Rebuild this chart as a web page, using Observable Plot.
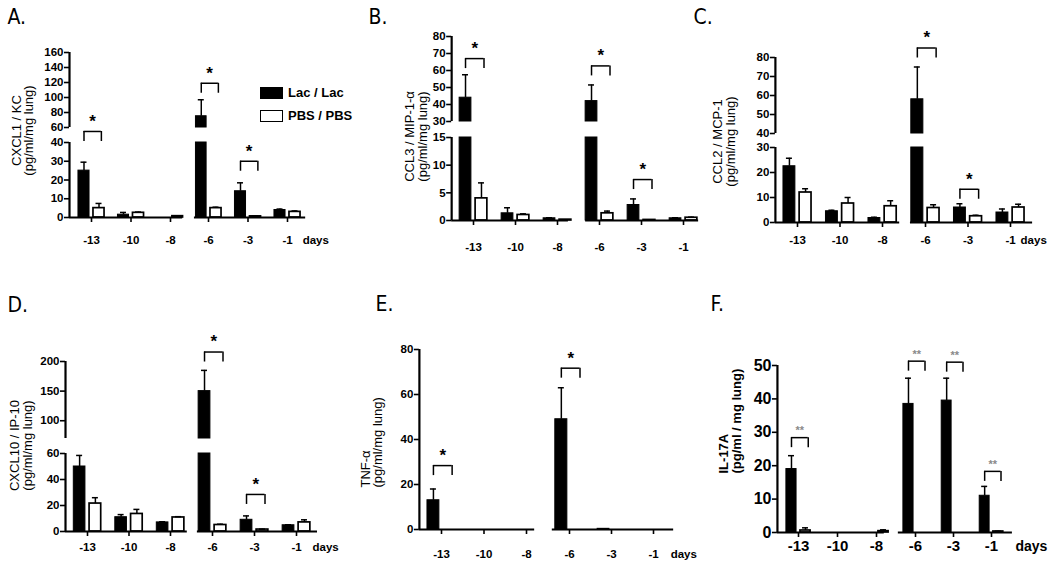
<!DOCTYPE html>
<html><head><meta charset="utf-8">
<script src="https://cdn.jsdelivr.net/npm/d3@7"></script>
<script src="https://cdn.jsdelivr.net/npm/@observablehq/plot@0.6"></script>
<style>
body{margin:0;background:#fff;}
#fig{position:relative;width:1050px;height:562px;overflow:hidden;background:#fff;}
#fig svg{position:absolute;left:0;top:0;}
.leg{position:absolute;font:bold 13px "Liberation Sans",Arial,sans-serif;color:#000;line-height:14px;}
.sw{position:absolute;box-sizing:border-box;}
</style></head><body><div id="fig"></div><script>
const days = ["-13","-10","-8","-6","-3","-1"];
const groups = ["Lac / Lac","PBS / PBS"];

// A. CXCL1 / KC
const kcLac = [25, 1.5, 0, 75, 14, 4];
const kcLacErr = [4.5, 1.2, 0, 22, 4.5, 0.5];
const kcPbs = [5, 2.5, 0.7, 5, 0.6, 3];
const kcPbsErr = [2.5, 0.4, 0.2, 0.5, 0.2, 0.5];
const kcSigDays = ["-13","-6","-3"];
const kcSigLevels = [54.7, 119, 30];

// B. CCL3 / MIP-1-alpha
const ccl3Lac = [44, 1.3, 0.4, 42, 2.8, 0.4];
const ccl3LacErr = [13.5, 1, 0.1, 9.5, 1.1, 0.1];
const ccl3Pbs = [4, 1.0, 0.15, 1.3, 0.1, 0.5];
const ccl3PbsErr = [2.8, 0.2, 0, 0.4, 0, 0.1];
const ccl3SigDays = ["-13","-6","-3"];
const ccl3SigLevels = [67, 62.7, 7.4];

// C. CCL2 / MCP-1
const ccl2Lac = [22.5, 4.5, 1.8, 58, 6, 4];
const ccl2LacErr = [3.2, 0.4, 0.3, 17, 1.5, 1.4];
const ccl2Pbs = [12, 7.6, 6.5, 5.8, 2.5, 6];
const ccl2PbsErr = [1.5, 2.4, 2.2, 1.3, 0.4, 1.3];
const ccl2SigDays = ["-6","-3"];
const ccl2SigLevels = [85, 13.3];

// D. CXCL10 / IP-10
const ip10Lac = [50, 11, 7, 150, 9, 4.8];
const ip10LacErr = [8.5, 2, 0.5, 35, 3, 0.4];
const ip10Pbs = [21.5, 13.5, 10.8, 5, 1.5, 7];
const ip10PbsErr = [4.5, 3.5, 0.6, 0.6, 0.3, 2];
const ip10SigDays = ["-6","-3"];
const ip10SigLevels = [216, 28.5];

// E. TNF-alpha
const tnfLac = [13, 0, 0, 49, 0.3, 0];
const tnfLacErr = [5, 0, 0, 14, 0, 0];
const tnfPbs = [0, 0, 0, 0, 0, 0];
const tnfPbsErr = [0, 0, 0, 0, 0, 0];
const tnfSigDays = ["-13","-6"];
const tnfSigLevels = [28.4, 71.7];

// F. IL-17A
const il17Lac = [19, 0, 0, 38.5, 39.5, 11];
const il17LacErr = [4, 0, 0, 7.7, 6.7, 2.8];
const il17Pbs = [0.6, 0, 0.4, 0, 0, 0.3];
const il17PbsErr = [0.8, 0, 0.4, 0, 0, 0.1];
const il17SigDays = ["-13","-6","-3","-1"];
const il17SigLevels = [28.4, 51.3, 51, 18.3];

const kcTicks = [0,10,20,30,40,60,80,100,120,140,160];
const ccl3Ticks = [0,5,10,15,30,40,50,60,70,80];
const ccl2Ticks = [0,10,20,30,40,50,60,70,80];
const ip10Ticks = [0,20,40,60,100,150,200];
const tnfTicks = [0,20,40,60,80];
const il17Ticks = [0,10,20,30,40,50];

const FONT = "'Liberation Sans', Arial, Helvetica, sans-serif";
const NARROW = "'Liberation Sans Narrow', 'Arial Narrow', 'DejaVu Sans Condensed', sans-serif";

const panels = [
 {letter:"A.", lp:[7,23], label:"CXCL1 / KC\n(pg/ml/mg lung)", yl:[22.5,130], ya:"middle",
  lac:kcLac, lacErr:kcLacErr, pbs:kcPbs, pbsErr:kcPbsErr, sigDays:kcSigDays, sigLevels:kcSigLevels, sig:"*",
  yDomain:[0,40,60,160], yRange:[217,142,127,52], brk:[40,60], top:160, ticks:kcTicks,
  xRange:[91,170,208,287], axis:-0.557, segs:[[-0.557,2.32],[2.63,5.46]], xdy:23, daysDx:-3, showDays:true},
 {letter:"B.", lp:[368,23], label:"CCL3 / MIP-1-\u03b1\n(pg/ml/mg lung)", yl:[416,136], ya:"middle",
  lac:ccl3Lac, lacErr:ccl3LacErr, pbs:ccl3Pbs, pbsErr:ccl3PbsErr, sigDays:ccl3SigDays, sigLevels:ccl3SigLevels, sig:"*",
  yDomain:[0,15,30,80], yRange:[220,137,121,36], brk:[15,30], top:80, ticks:ccl3Ticks,
  xRange:[473,557,599,683], axis:-0.52, segs:[[-0.52,2.26],[2.67,5.36]], xdy:27, daysDx:0, showDays:false},
 {letter:"C.", lp:[693,23], label:"CCL2 / MCP-1\n(pg/ml/mg lung)", yl:[724,141], ya:"middle",
  lac:ccl2Lac, lacErr:ccl2LacErr, pbs:ccl2Pbs, pbsErr:ccl2PbsErr, sigDays:ccl2SigDays, sigLevels:ccl2SigLevels, sig:"*",
  yDomain:[0,30,40,80], yRange:[222,147,133,57], brk:[30,40], top:80, ticks:ccl2Ticks,
  xRange:[797,882,925,1010], axis:-0.52, segs:[[-0.52,2.40],[2.65,5.52]], xdy:18, daysDx:-12, showDays:true},
 {letter:"D.", lp:[7,311], label:"CXCL10 / IP-10\n(pg/ml/mg lung)", yl:[21,445], ya:"middle",
  lac:ip10Lac, lacErr:ip10LacErr, pbs:ip10Pbs, pbsErr:ip10PbsErr, sigDays:ip10SigDays, sigLevels:ip10SigLevels, sig:"*",
  yDomain:[0,60,70,200], yRange:[531,453,438,361], brk:[60,70], top:200, ticks:ip10Ticks,
  xRange:[87,170,212,296], axis:-0.53, segs:[[-0.53,2.40],[2.64,5.5]], xdy:16, daysDx:-5, showDays:true},
 {letter:"E.", lp:[375,310], label:"TNF-\u03b1\n(pg/ml/mg lung)", yl:[371.5,487], ya:"start",
  lac:tnfLac, lacErr:tnfLacErr, pbs:tnfPbs, pbsErr:tnfPbsErr, sigDays:tnfSigDays, sigLevels:tnfSigLevels, sig:"*",
  yDomain:[0,80], yRange:[529,349], brk:null, top:80, ticks:tnfTicks,
  xRange:[441,526,569,653], axis:-0.52, segs:[[-0.52,2.19],[2.60,5.48]], xdy:25, daysDx:-3, showDays:true},
 {letter:"F.", lp:[710,310], label:"IL-17A\n(pg/ml / mg lung)", yl:[730,473], ya:"start", big:true,
  lac:il17Lac, lacErr:il17LacErr, pbs:il17Pbs, pbsErr:il17PbsErr, sigDays:il17SigDays, sigLevels:il17SigLevels, sig:"**",
  yDomain:[0,50], yRange:[532,365], brk:null, top:50, ticks:il17Ticks,
  xRange:[798,876,915,991], axis:-0.54, segs:[[-0.54,2.2],[2.56,5.55]], xdy:14, daysDx:3, showDays:true, bw:0.31}
];

function pieces(v, brk){
  if (!brk || v <= brk[0]) return [[0, v]];
  if (v <= brk[1]) return [[0, brk[0]]];
  return [[0, brk[0]], [brk[1], v]];
}

const fig = document.getElementById("fig");

for (const p of panels) {
  const bw = p.bw || 0.33, bg = 0.05, mid = (bw + bg) / 2;
  const lacR = [], pbsR = [], errs = [];
  days.forEach((d, i) => {
    if (p.lac[i] > 0) pieces(p.lac[i], p.brk).forEach(([a, b]) => lacR.push({x1: i - bw, x2: i - bg, y1: a, y2: b}));
    if (p.pbs[i] > 0) pieces(p.pbs[i], p.brk).forEach(([a, b]) => pbsR.push({x1: i + bg, x2: i + bw, y1: a, y2: b}));
    if (p.lacErr[i] > 0) errs.push({x: i - mid, v: p.lac[i], e: p.lacErr[i]});
    if (p.pbsErr[i] > 0) errs.push({x: i + mid, v: p.pbs[i], e: p.pbsErr[i]});
  });
  const br = p.sigDays.map((d, k) => ({s: days.indexOf(d), level: p.sigLevels[k]}));
  const drops = br.flatMap(b => [{x: b.s - mid, level: b.level}, {x: b.s + 0.25, level: b.level}]);
  const ySegs = p.brk ? [[0, p.brk[0]], [p.brk[1], p.top]] : [[0, p.top]];
  const yTickFont = p.big ? 16 : 11.5;
  const xTickFont = p.big ? 15 : 11.5;
  const daysFont = p.big ? 14 : 11.5;

  const chart = Plot.plot({
    width: 1050, height: 562,
    marginTop: 0, marginRight: 0, marginBottom: 0, marginLeft: 0,
    style: {background: "transparent", fontFamily: FONT, overflow: "visible"},
    x: {type: "linear", domain: [0, 2, 3, 5], range: p.xRange, axis: null},
    y: {type: "linear", domain: p.yDomain, range: p.yRange, axis: null},
    marks: [
      Plot.rect(lacR, {x1: "x1", x2: "x2", y1: "y1", y2: "y2", fill: "black", stroke: "black", strokeWidth: 1}),
      Plot.rect(pbsR, {x1: "x1", x2: "x2", y1: "y1", y2: "y2", fill: "white", stroke: "black", strokeWidth: 1.7}),
      Plot.ruleX(errs, {x: "x", y1: "v", y2: d => d.v + d.e, stroke: "black", strokeWidth: 1.5}),
      Plot.ruleY(errs, {x1: "x", x2: "x", y: d => d.v + d.e, insetLeft: -3, insetRight: -3, stroke: "black", strokeWidth: 1.5}),
      // y axis (broken)
      Plot.ruleX(ySegs, {x: () => p.axis, y1: d => d[0], y2: d => d[1], stroke: "black", strokeWidth: 2.2}),
      Plot.ruleY(p.ticks, {y: d => d, x1: () => p.axis, x2: () => p.axis, insetLeft: -5, stroke: "black", strokeWidth: 1.6}),
      Plot.text(p.ticks, {x: () => p.axis, y: d => d, text: d => String(d), dx: -6, textAnchor: "end", lineAnchor: "middle",
        fontSize: yTickFont, fontWeight: "bold", fill: "black"}),
      // x axis (broken)
      Plot.ruleY(p.segs, {y: () => 0, x1: d => d[0], x2: d => d[1], stroke: "black", strokeWidth: 2.2}),
      Plot.ruleX(days, {x: (d, i) => i, y1: () => 0, y2: () => 0, insetBottom: -5, stroke: "black", strokeWidth: 1.6}),
      Plot.text(days, {x: (d, i) => i, y: () => 0, text: d => d, dy: p.xdy, lineAnchor: "middle",
        fontSize: xTickFont, fontWeight: "bold", fill: "black"}),
      p.showDays ? Plot.text(["days"], {x: () => p.segs[1][1], y: () => 0, text: d => d, dx: p.daysDx, dy: p.xdy,
        textAnchor: "start", lineAnchor: "middle", fontSize: daysFont, fontWeight: "bold", fill: "black"}) : null,
      // significance brackets
      Plot.ruleY(br, {x1: d => d.s - mid, x2: d => d.s + 0.25, y: "level", stroke: "black", strokeWidth: 1.5}),
      Plot.ruleX(drops, {x: "x", y1: "level", y2: "level", insetBottom: -10, stroke: "black", strokeWidth: 1.5}),
      Plot.text(br, {x: d => d.s + (0.25 - mid) / 2, y: "level", text: () => p.sig,
        dy: p.big ? -7 : -10, lineAnchor: "middle", fontSize: p.big ? 11 : 17, fontWeight: "bold",
        fill: p.big ? "#8a8a8a" : "black"}),
      // labels
      Plot.text([p.letter], {frameAnchor: "top-left", dx: p.lp[0], dy: p.lp[1], text: d => d,
        textAnchor: "start", lineAnchor: "bottom", fontSize: 21, fontFamily: NARROW, fill: "black"}),
      Plot.text([p.label], {frameAnchor: "top-left", dx: p.yl[0], dy: p.yl[1], text: d => d, rotate: -90,
        textAnchor: p.ya, lineAnchor: "middle", lineHeight: 0.95, fontSize: 13,
        fontWeight: p.big ? "bold" : "normal", fill: "black"})
    ]
  });
  fig.appendChild(chart);
}

// legend (panel A)
const legItems = [
  {name: groups[0], fill: "#000"},
  {name: groups[1], fill: "#fff"}
];
legItems.forEach((g, k) => {
  const top = 87 + k * 23;
  const sw = document.createElement("div");
  sw.className = "sw";
  sw.style.cssText = `left:260px;top:${top}px;width:23px;height:12px;background:${g.fill};border:1.6px solid #000;`;
  fig.appendChild(sw);
  const t = document.createElement("div");
  t.className = "leg";
  t.style.left = "288px";
  t.style.top = (top - 1) + "px";
  t.textContent = g.name;
  fig.appendChild(t);
});
</script></body></html>
